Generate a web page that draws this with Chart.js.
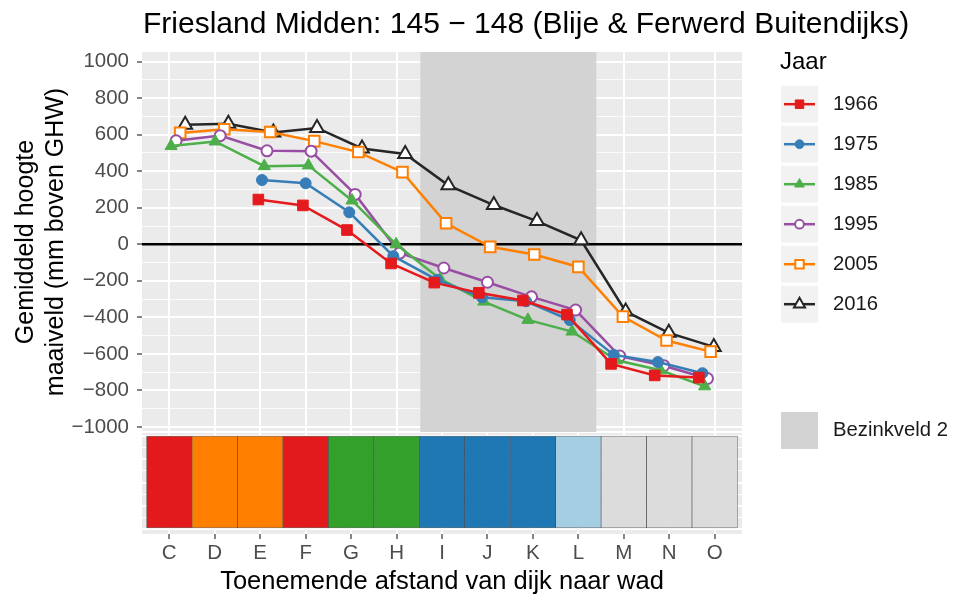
<!DOCTYPE html>
<html>
<head>
<meta charset="utf-8">
<script src="https://cdn.jsdelivr.net/npm/chart.js@4.4.1/dist/chart.umd.min.js"></script>
<style>
  html, body { margin: 0; padding: 0; background: #fff; }
  #wrap { width: 953px; height: 597px; }
</style>
</head>
<body>
<div id="wrap"><canvas id="hoogteChart" width="953" height="597"></canvas></div>
<script>
// Raaien van dijk (C) naar wad (O)
const categories = ['C', 'D', 'E', 'F', 'G', 'H', 'I', 'J', 'K', 'L', 'M', 'N', 'O'];

const jaren = ['1966', '1975', '1985', '1995', '2005', '2016'];

// Gemiddelde maaiveldhoogte per jaar (mm boven GHW)
const h1966 = [null, null, 245, 213, 78, -105, -210, -266, -308, -385, -655, -718, -730];
const h1975 = [null, null, 352, 334, 175, -65, -195, -290, -312, -415, -606, -645, -706];
const h1985 = [538, 563, 428, 432, 240, 0, -190, -314, -414, -478, -635, -690, -778];
const h1995 = [567, 595, 512, 510, 273, -48, -130, -208, -288, -360, -612, -665, -735];
const h2005 = [610, 630, 615, 565, 505, 395, 115, -14, -56, -124, -396, -527, -588];
const h2016 = [655, 660, 612, 637, 525, 495, 323, 215, 127, 22, -368, -485, -562];
const hoogtes = [h1966, h1975, h1985, h1995, h2005, h2016];

// Gemiddelde ligging van de meetpunten per jaar (in raai-eenheden, C = 0)
const x1966 = [null, null, 1.96, 2.94, 3.91, 4.88, 5.83, 6.81, 7.78, 8.75, 9.72, 10.68, 11.65];
const x1975 = [null, null, 2.04, 3.0, 3.96, 4.93, 5.89, 6.88, 7.85, 8.81, 9.78, 10.75, 11.73];
const x1985 = [0.04, 1.01, 2.09, 3.06, 4.02, 4.99, 5.96, 6.92, 7.89, 8.86, 9.84, 10.81, 11.78];
const x1995 = [0.15, 1.12, 2.15, 3.12, 4.09, 5.07, 6.04, 7.0, 7.97, 8.94, 9.91, 10.88, 11.84];
const x2005 = [0.24, 1.21, 2.22, 3.19, 4.16, 5.13, 6.09, 7.06, 8.03, 9.0, 9.98, 10.94, 11.91];
const x2016 = [0.35, 1.30, 2.29, 3.25, 4.24, 5.19, 6.14, 7.14, 8.09, 9.06, 10.04, 10.99, 11.98];
const liggingen = [x1966, x1975, x1985, x1995, x2005, x2016];

// y-as
const yTickValues = [-1000, -800, -600, -400, -200, 0, 200, 400, 600, 800, 1000];
const yMin = -1028, yMax = 1053;

// Bezinkveld 2 (in raai-eenheden)
const bezinkveld = [5.52, 9.4];

// Kleurklasse per raai voor de strook onder de grafiek
const stripKlasse = ['rood', 'oranje', 'oranje', 'rood', 'groen', 'groen', 'blauw', 'blauw', 'blauw', 'lichtblauw', 'grijs', 'grijs', 'grijs'];

const klasseKleur = {
  rood: '#E31A1C', oranje: '#FF7F00', groen: '#33A02C',
  blauw: '#1F78B4', lichtblauw: '#A6CEE3', grijs: '#DCDCDC'
};

const lijnStijl = [
  { color: '#E41A1C', point: 'rect', radius: 7.5, open: false },
  { color: '#377EB8', point: 'circle', radius: 5.5, open: false },
  { color: '#4DAF4A', point: 'triangle', radius: 7, open: false },
  { color: '#984EA3', point: 'circle', radius: 5.5, open: true },
  { color: '#FF7F00', point: 'rect', radius: 7.5, open: true },
  { color: '#262626', point: 'triangle', radius: 8, open: true }
];

const FONT = '"Liberation Sans", Arial, sans-serif';

const datasets = jaren.map((jaar, k) => {
  const s = lijnStijl[k];
  return {
    type: 'line',
    label: jaar,
    data: categories.map((c, i) => ({ x: liggingen[k][i], y: hoogtes[k][i] }))
      .filter(p => p.y !== null),
    yAxisID: 'y',
    borderColor: s.color,
    borderWidth: 2.5,
    tension: 0,
    pointStyle: s.point,
    pointRadius: s.radius,
    pointBackgroundColor: s.open ? '#FFFFFF' : s.color,
    pointBorderColor: s.color,
    pointBorderWidth: s.open ? 2 : 1,
    order: 0
  };
});

// grijs vlak voor het bezinkveld
datasets.push({
  type: 'line',
  label: 'Bezinkveld 2',
  data: bezinkveld.map(x => ({ x: x, y: yMax })),
  yAxisID: 'y',
  borderWidth: 0,
  pointRadius: 0,
  backgroundColor: '#D3D3D3',
  fill: 'start',
  order: 99
});
const bandIndex = datasets.length - 1;

// gekleurde strook
datasets.push({
  type: 'bar',
  label: 'strook',
  data: categories.map((c, i) => ({ x: i, y: [0, 1] })),
  yAxisID: 'strip',
  backgroundColor: stripKlasse.map(k => klasseKleur[k]),
  borderColor: 'rgba(0,0,0,0.55)',
  borderWidth: 0.7,
  borderSkipped: false,
  barPercentage: 1,
  categoryPercentage: 1,
  order: 50
});

function noPadding(s) {
  s.paddingTop = 0; s.paddingBottom = 0; s.paddingLeft = 0; s.paddingRight = 0;
}

const panelPlugin = {
  id: 'panels',
  beforeDraw(chart) {
    const { ctx, chartArea, scales } = chart;
    ctx.save();
    ctx.fillStyle = '#EBEBEB';
    ctx.fillRect(chartArea.left, scales.y.top, chartArea.width, scales.y.bottom - scales.y.top - 1);
    ctx.fillRect(chartArea.left, scales.strip.top + 1, chartArea.width, scales.strip.bottom - scales.strip.top - 1);
    ctx.restore();
  },
  afterDatasetDraw(chart, args) {
    if (args.index !== bandIndex) return;
    const { ctx, chartArea, scales } = chart;
    const y0 = scales.y.getPixelForValue(0);
    ctx.save();
    ctx.strokeStyle = '#000';
    ctx.lineWidth = 2.5;
    ctx.beginPath();
    ctx.moveTo(chartArea.left, y0);
    ctx.lineTo(chartArea.right, y0);
    ctx.stroke();
    ctx.restore();
  },
  afterDraw(chart) {
    const { ctx } = chart;
    ctx.save();
    // titel
    ctx.fillStyle = '#000';
    ctx.textBaseline = 'middle';
    ctx.textAlign = 'left';
    ctx.font = '30px ' + FONT;
    ctx.fillText('Friesland Midden: 145 \u2212 148 (Blije & Ferwerd Buitendijks)', 143, 25);

    // legenda
    ctx.font = '24px ' + FONT;
    ctx.fillText('Jaar', 780, 62);
    ctx.font = '20.3px ' + FONT;
    const kx = 781, kw = 37;
    jaren.forEach((jaar, k) => {
      const ds = chart.data.datasets[k];
      const top = 85.7 + 40 * k;
      const cy = top + kw / 2;
      ctx.fillStyle = '#F2F2F2';
      ctx.fillRect(kx, top, kw, kw);
      ctx.strokeStyle = ds.borderColor;
      ctx.lineWidth = 2.5;
      ctx.beginPath();
      ctx.moveTo(kx + 3, cy);
      ctx.lineTo(kx + kw - 3, cy);
      ctx.stroke();
      ctx.fillStyle = ds.pointBackgroundColor;
      ctx.lineWidth = ds.pointBorderWidth;
      Chart.helpers.drawPoint(ctx, {
        pointStyle: ds.pointStyle, rotation: 0,
        radius: ds.pointRadius * 0.8, borderWidth: ds.pointBorderWidth
      }, kx + kw / 2, cy);
      ctx.fillStyle = '#1A1A1A';
      ctx.fillText(jaar, 833, cy);
    });
    const band = chart.data.datasets[bandIndex];
    ctx.fillStyle = band.backgroundColor;
    ctx.fillRect(kx, 412, kw, kw);
    ctx.fillStyle = '#1A1A1A';
    ctx.fillText(band.label, 833, 412 + kw / 2);
    ctx.restore();
  }
};

new Chart(document.getElementById('hoogteChart'), {
  type: 'line',
  data: { datasets: datasets },
  options: {
    responsive: false,
    animation: false,
    events: [],
    layout: { padding: { top: 52, right: 211, left: 0, bottom: 0 } },
    plugins: {
      legend: { display: false },
      tooltip: { enabled: false }
    },
    scales: {
      x: {
        type: 'linear',
        min: -0.6,
        max: 12.6,
        offset: false,
        afterBuildTicks(s) { s.ticks = categories.map((c, i) => ({ value: i })); },
        afterFit(s) { s.height = 63; noPadding(s); },
        ticks: {
          autoSkip: false, maxRotation: 0, padding: 2,
          color: '#4D4D4D', font: { family: FONT, size: 20.5 },
          callback: v => categories[v]
        },
        grid: { offset: false, color: '#FFFFFF', lineWidth: 2, tickLength: 5, tickColor: '#333333', tickWidth: 1.2 },
        border: { display: false },
        title: {
          display: true, text: 'Toenemende afstand van dijk naar wad',
          color: '#000', font: { family: FONT, size: 25.5 }, padding: { top: 0, bottom: 0 }
        }
      },
      strip: {
        type: 'linear',
        position: 'left',
        stack: 'panels',
        stackWeight: 102,
        min: -0.055,
        max: 1.045,
        afterBuildTicks(s) {
          s.ticks = [0, 0.125, 0.25, 0.375, 0.5, 0.625, 0.75, 0.875, 1].map(v => ({ value: v }));
        },
        afterFit(s) { s.width = 142; noPadding(s); },
        ticks: { display: false },
        grid: {
          color: '#FFFFFF',
          lineWidth: c => (c.tick && (c.tick.value * 4) % 1 === 0) ? 2 : 1,
          drawTicks: false
        },
        border: { display: false }
      },
      y: {
        type: 'linear',
        position: 'left',
        stack: 'panels',
        stackWeight: 380,
        min: yMin,
        max: yMax,
        afterBuildTicks(s) {
          const t = [];
          yTickValues.forEach((v, i) => {
            t.push({ value: v });
            if (i < yTickValues.length - 1) t.push({ value: (v + yTickValues[i + 1]) / 2 });
          });
          s.ticks = t;
        },
        afterFit(s) { s.width = 142; noPadding(s); },
        ticks: {
          autoSkip: false, padding: 8,
          color: '#4D4D4D', font: { family: FONT, size: 20.5 },
          callback: v => yTickValues.includes(v) ? String(v).replace('-', '\u2212') : ''
        },
        grid: {
          color: '#FFFFFF',
          lineWidth: c => (c.tick && yTickValues.includes(c.tick.value)) ? 2 : 0.8,
          tickLength: 5,
          tickColor: c => (c.tick && yTickValues.includes(c.tick.value)) ? '#333333' : 'rgba(0,0,0,0)',
          tickWidth: 1.2
        },
        border: { display: false },
        title: {
          display: true, text: ['Gemiddeld hoogte', 'maaiveld (mm boven GHW)'],
          color: '#000', font: { family: FONT, size: 25 }, padding: { top: 11, bottom: 0 }
        }
      }
    }
  },
  plugins: [panelPlugin]
});
</script>
</body>
</html>
